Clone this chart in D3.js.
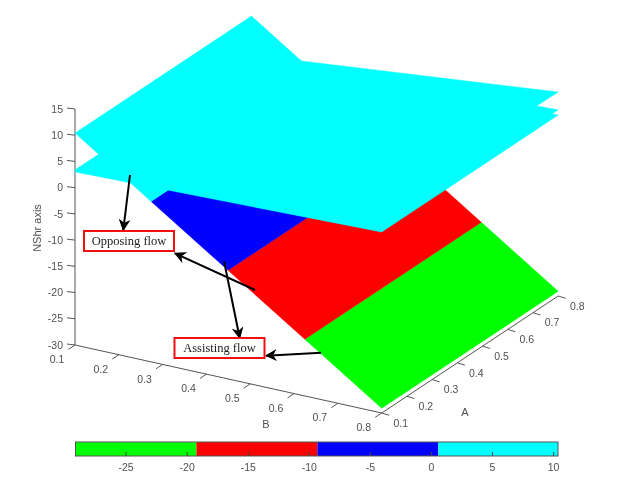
<!DOCTYPE html>
<html>
<head>
<meta charset="utf-8">
<script src="https://cdn.jsdelivr.net/npm/d3@7"></script>
<style>
html, body { margin: 0; background: #fff; }
svg { display: block; filter: blur(0.35px); }
text { font-family: "Liberation Sans", Arial, sans-serif; fill: #505050; font-size: 10.5px; }
text.note { font-family: "Liberation Serif", serif; fill: #222; font-size: 12.5px; }
</style>
</head>
<body>
<svg id="chart" width="620" height="496"></svg>
<script>
// axes
var abTicks = [0.1, 0.2, 0.3, 0.4, 0.5, 0.6, 0.7, 0.8];
var zTicks = [15, 10, 5, 0, -5, -10, -15, -20, -25, -30];
var barTicks = [-25, -20, -15, -10, -5, 0, 5, 10];

// contour levels and colours of the bands
var levels = [-29.1, -19.2, -9.3, 0.6, 10.4];
var bandColors = ['#00ff00', '#ff0000', '#0000ff', '#00ffff'];

// the sloped surface, z at b = 0.1 and b = 0.8
var slopedZ = [10.4, -29.1];

// the nearly flat surfaces, z at corners [a, b, z]
var flatTop = [[0.1, 0.1, 3.4], [0.8, 0.1, 3.0], [0.8, 0.8, 8.9], [0.1, 0.8, 9.3]];
var flatMid = [[0.1, 0.1, 3.2], [0.8, 0.1, 3.0], [0.8, 0.8, 5.5], [0.1, 0.8, 4.6]];
var flatLow = [[0.1, 0.1, 3.0], [0.8, 0.1, 2.7], [0.8, 0.8, 4.5], [0.1, 0.8, 4.5]];

// annotations
var notes = [
	{ label: 'Opposing flow', x: 84, y: 231, w: 90, h: 20 },
	{ label: 'Assisting flow', x: 174.5, y: 338, w: 90, h: 20 }
];
var arrows = [
	[[130, 175], [123.3, 230]],
	[[255, 290], [175, 253.3]],
	[[224, 261], [239.7, 338]],
	[[321, 352.7], [266, 355.7]]
];

var svg = d3.select('#chart');

// the 3d view is three linear scales whose pixel offsets add up
var aX = d3.scaleLinear().domain([0.1, 0.8]).range([0, 176.5]);
var aY = d3.scaleLinear().domain([0.1, 0.8]).range([0, -117]);
var bX = d3.scaleLinear().domain([0.1, 0.8]).range([75, 381.7]);
var bY = d3.scaleLinear().domain([0.1, 0.8]).range([345, 413]);
var zY = d3.scaleLinear().domain([-30, 15]).range([0, -236]);

function project(a, b, z) {
	return [aX(a) + bX(b), aY(a) + bY(b) + zY(z)];
}

var line = d3.line();

function corners(d) {
	return line(d.map(function(c) { return project(c[0], c[1], c[2]); })) + 'Z';
}

// sloped surface, cut up by level
var zToB = d3.scaleLinear().domain(slopedZ).range([0.1, 0.8]);
var bands = bandColors.map(function(color, i) {
	var b0 = zToB(levels[i]), b1 = zToB(levels[i + 1]);
	return {
		color: color,
		pts: [[0.1, b0, levels[i]], [0.8, b0, levels[i]], [0.8, b1, levels[i + 1]], [0.1, b1, levels[i + 1]]]
	};
});

var gridAxis = svg.append('g').attr('stroke', '#555').attr('stroke-width', 1).attr('fill', 'none');

svg.append('g').selectAll('path')
	.data(bands)
	.enter().append('path')
	.attr('d', function(d) { return corners(d.pts); })
	.attr('fill', function(d) { return d.color; })
	.attr('stroke', function(d) { return d.color; })
	.attr('stroke-width', 0.4);

svg.append('g').selectAll('path')
	.data([flatLow, flatMid, flatTop])
	.enter().append('path')
	.attr('d', corners)
	.attr('fill', bandColors[3])
	.attr('stroke', bandColors[3])
	.attr('stroke-width', 0.4);

// z axis
gridAxis.append('path').attr('d', line([project(0.1, 0.1, 15), project(0.1, 0.1, -30)]));
zTicks.forEach(function(t) {
	var p = project(0.1, 0.1, t);
	gridAxis.append('path').attr('d', line([p, [p[0] - 8, p[1] - 1]]));
	svg.append('text').attr('x', p[0] - 12).attr('y', p[1]).attr('dy', '0.35em')
		.attr('text-anchor', 'end').text(t);
});

// b axis, along the front left
gridAxis.append('path').attr('d', line([project(0.1, 0.1, -30), project(0.1, 0.8, -30)]));
abTicks.forEach(function(t) {
	var p = project(0.1, t, -30);
	gridAxis.append('path').attr('d', line([p, [p[0] - 6.5, p[1] + 4.3]]));
	svg.append('text').attr('x', p[0] - 18).attr('y', p[1] + 14.5).attr('dy', '0.35em')
		.attr('text-anchor', 'middle').text(t.toFixed(1));
});

// a axis, along the front right
gridAxis.append('path').attr('d', line([project(0.1, 0.8, -30), project(0.8, 0.8, -30)]));
abTicks.forEach(function(t) {
	var p = project(t, 0.8, -30);
	gridAxis.append('path').attr('d', line([p, [p[0] + 7.5, p[1] + 2.3]]));
	svg.append('text').attr('x', p[0] + 19).attr('y', p[1] + 10).attr('dy', '0.35em')
		.attr('text-anchor', 'middle').text(t.toFixed(1));
});

svg.append('text').attr('transform', 'translate(41,228) rotate(-90)').attr('text-anchor', 'middle')
	.style('font-size', '11px').text('NShr axis');
svg.append('text').attr('x', 266).attr('y', 428).attr('text-anchor', 'middle').style('font-size', '11px').text('B');
svg.append('text').attr('x', 465).attr('y', 416).attr('text-anchor', 'middle').style('font-size', '11px').text('A');

// colour bar
var barX = d3.scaleLinear().domain([levels[0], levels[4]]).range([75.5, 558]);
var barTop = 442, barBottom = 456;

svg.append('g').selectAll('rect')
	.data(bandColors)
	.enter().append('rect')
	.attr('x', function(d, i) { return barX(levels[i]); })
	.attr('y', barTop)
	.attr('width', function(d, i) { return barX(levels[i + 1]) - barX(levels[i]); })
	.attr('height', barBottom - barTop)
	.attr('fill', function(d) { return d; });

svg.append('rect').attr('x', barX.range()[0]).attr('y', barTop)
	.attr('width', barX.range()[1] - barX.range()[0]).attr('height', barBottom - barTop)
	.attr('fill', 'none').attr('stroke', '#555');

var barAxis = svg.append('g').attr('transform', 'translate(0,' + barBottom + ')')
	.call(d3.axisBottom(barX).tickValues(barTicks).tickSizeInner(-4).tickSizeOuter(0).tickPadding(8)
		.tickFormat(function(d) { return String(d); }));
barAxis.select('.domain').remove();
barAxis.selectAll('line').attr('stroke', '#444');
barAxis.attr('font-family', null).attr('font-size', null);

// annotations on top
var defs = svg.append('defs');
defs.append('marker').attr('id', 'head').attr('viewBox', '0 0 10 10').attr('refX', 9).attr('refY', 5)
	.attr('markerUnits', 'userSpaceOnUse').attr('markerWidth', 12).attr('markerHeight', 12).attr('orient', 'auto')
	.append('path').attr('d', 'M0,0L10,5L0,10L3,5Z').attr('fill', '#000');

svg.append('g').selectAll('path')
	.data(arrows)
	.enter().append('path')
	.attr('d', function(d) { return line(d); })
	.attr('stroke', '#000')
	.attr('stroke-width', 2)
	.attr('fill', 'none')
	.attr('marker-end', 'url(#head)');

var noteG = svg.append('g').selectAll('g').data(notes).enter().append('g');
noteG.append('rect')
	.attr('x', function(d) { return d.x; }).attr('y', function(d) { return d.y; })
	.attr('width', function(d) { return d.w; }).attr('height', function(d) { return d.h; })
	.attr('fill', '#fff').attr('stroke', '#f01010').attr('stroke-width', 2);
noteG.append('text').attr('class', 'note')
	.attr('x', function(d) { return d.x + d.w / 2; }).attr('y', function(d) { return d.y + d.h / 2; })
	.attr('dy', '0.33em').attr('text-anchor', 'middle')
	.text(function(d) { return d.label; });
</script>
</body>
</html>
